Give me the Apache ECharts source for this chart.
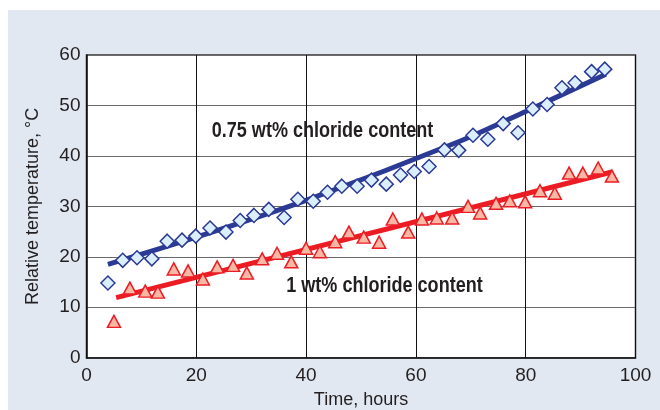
<!DOCTYPE html>
<html>
<head>
<meta charset="utf-8">
<style>
html,body{margin:0;padding:0;background:#fff;}
#bg{position:absolute;left:8px;top:10px;width:652px;height:400px;background:#e1e8f2;}
#c{position:absolute;left:0;top:0;width:660px;height:410px;}
</style>
<script src="https://cdn.jsdelivr.net/npm/echarts@6/dist/echarts.min.js"></script>
</head>
<body>
<div id="bg"></div>
<div id="c"></div>
<script>
// Data
const diamondX = [3.9, 6.6, 9.2, 11.9, 14.7, 17.4, 19.9, 22.5, 25.4, 28.0, 30.5, 33.2, 36.0, 38.5, 41.3, 43.9, 46.5, 49.3, 51.9, 54.6, 57.2, 59.7, 62.4, 65.2, 67.8, 70.4, 73.1, 75.9, 78.6, 81.3, 83.9, 86.6, 89.0, 92.0, 94.4];
const diamondY = [14.8, 19.3, 19.8, 19.6, 23.1, 23.3, 24.1, 25.7, 24.9, 27.2, 28.2, 29.4, 27.8, 31.4, 31.0, 32.8, 34.0, 34.0, 35.2, 34.4, 36.2, 36.9, 37.9, 41.2, 41.1, 44.1, 43.3, 46.4, 44.6, 49.3, 50.2, 53.5, 54.5, 56.7, 57.2];
const triangleX = [5.0, 7.9, 10.7, 13.0, 15.9, 18.5, 21.2, 23.8, 26.7, 29.2, 32.0, 34.7, 37.3, 40.0, 42.5, 45.3, 47.8, 50.5, 53.3, 55.8, 58.6, 61.1, 63.8, 66.6, 69.5, 71.7, 74.6, 77.1, 79.9, 82.6, 85.3, 87.9, 90.4, 93.2, 95.7];
const triangleY = [7.2, 13.8, 13.2, 13.0, 17.6, 17.2, 15.6, 18.0, 18.3, 16.8, 19.6, 20.7, 19.0, 21.7, 21.0, 23.0, 24.9, 23.9, 22.9, 27.5, 24.9, 27.5, 27.7, 27.7, 30.0, 28.7, 30.6, 31.1, 30.9, 33.1, 32.6, 36.6, 36.6, 37.6, 36.0];
// fitted trend curves
const trendBlueX = [3.9, 20, 40, 68, 80, 94.6];
const trendBlueY = [18.5, 23.9, 31.2, 42.9, 48.8, 56.2];
const trendRedX = [5.4, 95.7];
const trendRedY = [11.9, 36.8];
const xTicks = [0, 20, 40, 60, 80, 100];
const yTicks = [0, 10, 20, 30, 40, 50, 60];
const label075 = '0.75 wt% chloride content';
const label1 = '1 wt% chloride content';
const xName = 'Time, hours';
const yName = 'Relative temperature, °C';

const FONT = '"Liberation Sans", Arial, sans-serif';
const zip = (a, b) => a.map((v, i) => [v, b[i]]);

const chart = echarts.init(document.getElementById('c'), null, {renderer: 'canvas'});
chart.setOption({
  backgroundColor: 'transparent',
  animation: false,
  grid: {left: 86.5, right: 24.5, top: 55, bottom: 52.3, outerBoundsMode: 'none', containLabel: false,
         show: true, backgroundColor: '#ffffff', borderColor: '#333', borderWidth: 1.5},
  xAxis: {
    type: 'value', min: xTicks[0], max: xTicks[xTicks.length - 1], interval: 20,
    name: xName, nameLocation: 'middle', nameGap: 32,
    nameTextStyle: {fontFamily: FONT, fontSize: 18, color: '#231f20'},
    axisLine: {show: true, lineStyle: {color: '#111', width: 1.5}},
    axisTick: {show: false},
    axisLabel: {fontFamily: FONT, fontSize: 19, color: '#231f20', margin: 9},
    splitLine: {show: true, lineStyle: {color: '#111', width: 1}}
  },
  yAxis: {
    type: 'value', min: yTicks[0], max: yTicks[yTicks.length - 1], interval: 10,
    name: yName, nameLocation: 'middle', nameGap: 44, nameRotate: 90,
    nameTextStyle: {fontFamily: FONT, fontSize: 18, color: '#231f20'},
    axisLine: {show: true, lineStyle: {color: '#111', width: 1.5}},
    axisTick: {show: false},
    axisLabel: {fontFamily: FONT, fontSize: 19, color: '#231f20', margin: 6},
    splitLine: {show: true, lineStyle: {color: '#6a6a6a', width: 1.2}}
  },
  series: [
    {type: 'line', data: zip(trendBlueX, trendBlueY), symbol: 'none', smooth: 0.3, lineStyle: {color: '#2b3a94', width: 5}, z: 2},
    {type: 'line', data: zip(trendRedX, trendRedY), symbol: 'none', lineStyle: {color: '#ec1c24', width: 5}, z: 2},
    {type: 'scatter', data: zip(diamondX, diamondY), symbol: 'diamond', symbolSize: [14, 14],
     itemStyle: {color: '#dbeefc', borderColor: '#2b3a94', borderWidth: 1.5, opacity: 1}, z: 3},
    {type: 'scatter', data: zip(triangleX, triangleY), symbol: 'triangle', symbolSize: [13, 12],
     itemStyle: {color: '#f8b8a4', borderColor: '#ec1c24', borderWidth: 1.5, opacity: 1}, z: 3}
  ],
  graphic: [
    {type: 'text', x: 322.5, y: 131, scaleX: 0.82, z: 10,
     style: {text: label075, fontFamily: FONT, fontSize: 22, fontWeight: 'bold', fill: '#231f20', align: 'center', verticalAlign: 'middle'}},
    {type: 'text', x: 384.5, y: 286, scaleX: 0.82, z: 10,
     style: {text: label1, fontFamily: FONT, fontSize: 22, fontWeight: 'bold', fill: '#231f20', align: 'center', verticalAlign: 'middle'}}
  ]
});
</script>
</body>
</html>
